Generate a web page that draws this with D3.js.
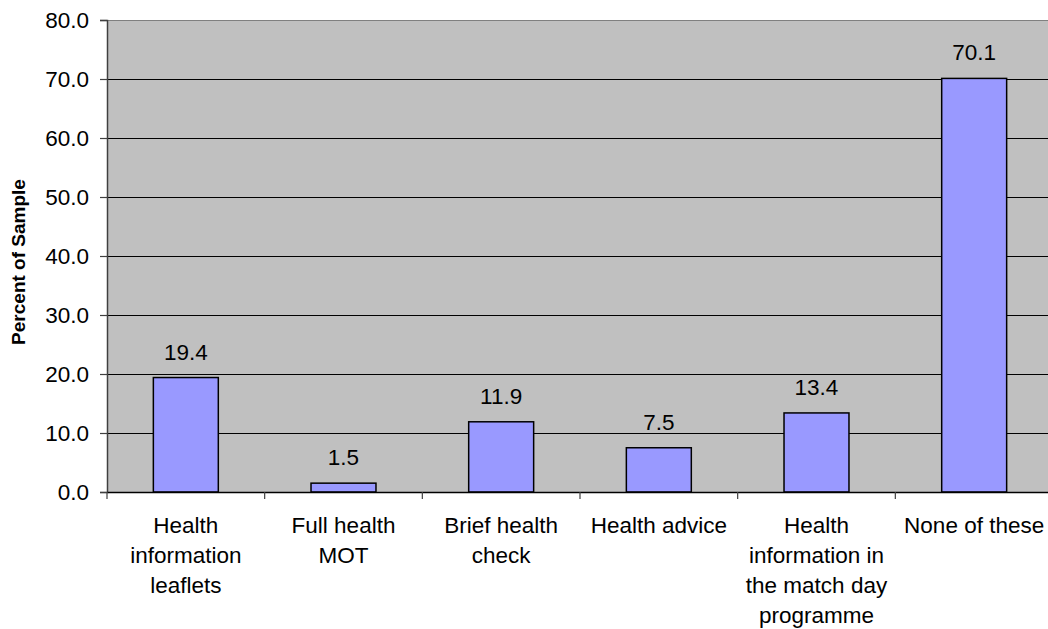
<!DOCTYPE html>
<html>
<head>
<meta charset="utf-8">
<script src="https://cdn.jsdelivr.net/npm/d3@7"></script>
<style>
  html, body { margin: 0; padding: 0; background: #fff; }
  svg { display: block; font-family: "Liberation Sans", Arial, sans-serif; }
</style>
</head>
<body>
<svg id="chart" width="1048" height="629"></svg>
<script>
const categories = [
  ["Health", "information", "leaflets"],
  ["Full health", "MOT"],
  ["Brief health", "check"],
  ["Health advice"],
  ["Health", "information in", "the match day", "programme"],
  ["None of these"]
];
const values = [19.4, 1.5, 11.9, 7.5, 13.4, 70.1];
const yTicks = [0, 10, 20, 30, 40, 50, 60, 70, 80];
const yTitle = "Percent of Sample";

(function () {
const svg = d3.select("#chart");
const pL = 107, pT = 20, pR = 1053, pB = 492;
const ids = categories.map((c, i) => i);

const x = d3.scaleBand().domain(ids).range([pL, pR]).paddingInner(0.588).paddingOuter(0.294);
const xOuter = d3.scaleBand().domain(ids).range([pL, pR]);
const y = d3.scaleLinear().domain([0, 80]).range([pB, pT]);

// plot background
svg.append("rect").attr("x", pL).attr("y", pT).attr("width", pR - pL).attr("height", pB - pT)
  .attr("fill", "#c0c0c0");

// gridlines
svg.append("g").selectAll("line").data(yTicks.filter(d => d > 0 && d < 80)).join("line")
  .attr("x1", pL).attr("x2", pR)
  .attr("y1", d => y(d) + 0.5).attr("y2", d => y(d) + 0.5)
  .attr("stroke", "#000").attr("stroke-width", 1);

// top border
svg.append("line").attr("x1", pL).attr("x2", pR).attr("y1", pT + 0.5).attr("y2", pT + 0.5)
  .attr("stroke", "#808080").attr("stroke-width", 1.2);

// bars
svg.append("g").selectAll("rect").data(values).join("rect")
  .attr("x", (d, i) => x(i))
  .attr("y", d => y(d))
  .attr("width", x.bandwidth())
  .attr("height", d => pB - y(d))
  .attr("fill", "#9999ff")
  .attr("stroke", "#000").attr("stroke-width", 1.5);

// value labels
svg.append("g").selectAll("text").data(values).join("text")
  .attr("x", (d, i) => x(i) + x.bandwidth() / 2)
  .attr("y", d => y(d) - 18)
  .attr("text-anchor", "middle")
  .attr("font-size", "22.5px")
  .attr("fill", "#000")
  .text(d => d.toFixed(1));

// y axis
const yAxis = d3.axisLeft(y).tickValues(yTicks).tickFormat(d => d.toFixed(1)).tickSize(7).tickPadding(11);
const gy = svg.append("g").attr("transform", `translate(${pL},0)`).call(yAxis);
gy.select(".domain").attr("stroke", "#404040").attr("stroke-width", 1.5);
gy.selectAll(".tick line").attr("stroke", "#404040").attr("stroke-width", 1.2);
gy.selectAll(".tick text").attr("font-size", "22.5px").attr("fill", "#000")
  .attr("font-family", "Liberation Sans, Arial, sans-serif");

// x axis
const xAxis = d3.axisBottom(xOuter).tickSize(0).tickFormat("");
const gx = svg.append("g").attr("transform", `translate(0,${pB})`).call(xAxis);
gx.select(".domain").attr("stroke", "#000").attr("stroke-width", 1.5);
gx.selectAll(".tick").remove();
// tick marks at band boundaries
svg.append("g").selectAll("line").data(ids).join("line")
  .attr("x1", d => xOuter(d)).attr("x2", d => xOuter(d))
  .attr("y1", pB).attr("y2", pB + 7)
  .attr("stroke", "#404040").attr("stroke-width", 1.2);

// category labels
const catG = svg.append("g").selectAll("text").data(categories).join("text")
  .attr("x", (d, i) => xOuter(i) + xOuter.bandwidth() / 2)
  .attr("y", pB + 41)
  .attr("text-anchor", "middle")
  .attr("font-size", "22.5px")
  .attr("fill", "#000");
catG.selectAll("tspan").data((d, i) => d.map(t => ({ t, i }))).join("tspan")
  .attr("x", d => xOuter(d.i) + xOuter.bandwidth() / 2)
  .attr("dy", (d, j) => j === 0 ? 0 : 30)
  .text(d => d.t);

// y title
svg.append("text")
  .attr("transform", `translate(25,${(pT + pB) / 2 + 6}) rotate(-90)`)
  .attr("text-anchor", "middle")
  .attr("font-size", "19px")
  .attr("font-weight", "bold")
  .attr("fill", "#000")
  .text(yTitle);
})();
</script>
</body>
</html>
